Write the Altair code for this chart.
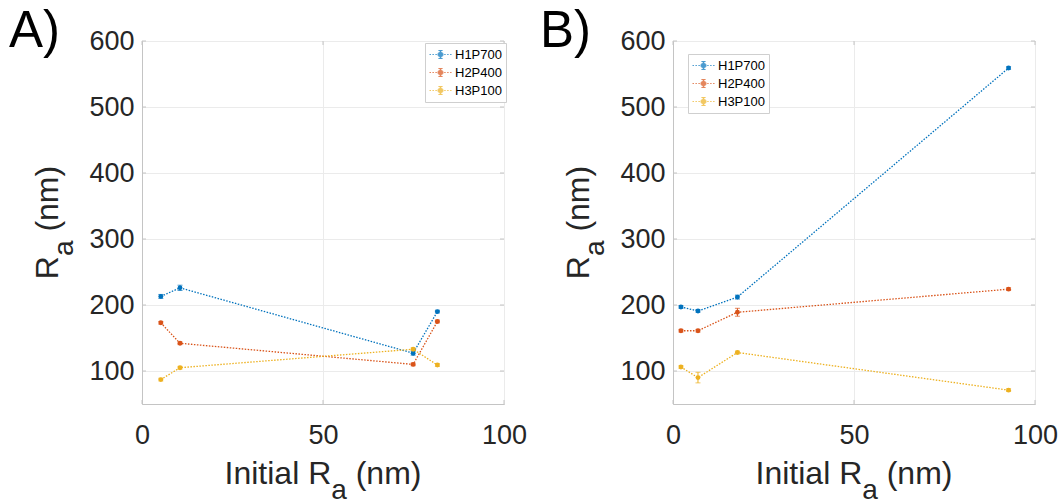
import altair as alt
import pandas as pd

FONT = "Liberation Sans"
GRAY = "#c4c4c4"
TXT = "#262626"

series = ["H1P700", "H2P400", "H3P100"]
colors = ["#0072BD", "#D95319", "#EDB120"]

# Panel A
a_x = [5.2, 10.5, 74.9, 81.6]
a_h1 = [213, 226, 127, 190]
a_h2 = [173, 142, 110, 175]
a_h3 = [87, 105, 133, 109]
a_h1_err = [3, 4, 3, 2]
a_h2_err = [2, 2, 2, 2]
a_h3_err = [2, 2, 2, 2]

# Panel B
b_x = [2.2, 6.9, 17.8, 92.7]
b_h1 = [197, 191, 212, 559]
b_h2 = [161, 161, 189, 224]
b_h3 = [106, 90, 128, 71]
b_h1_err = [2, 2, 3, 2]
b_h2_err = [2, 2, 6, 2]
b_h3_err = [2, 8, 2, 2]

x_ticks = [0, 50, 100]
y_ticks = [100, 200, 300, 400, 500, 600]

W, H = 362, 363
F_MAIN, F_SUB, SUB_DROP = 32, 28, 15

# approximate Arial advance widths (em)
ADV = {"I": .278, "n": .556, "i": .222, "t": .278, "a": .556, "l": .222,
       " ": .278, "R": .722, "(": .333, ")": .333, "m": .833}


def tw(s, f):
    return sum(ADV[c] for c in s) * f


def make_df(xs, ys_list, errs_list):
    rows = []
    for s, ys, es in zip(series, ys_list, errs_list):
        for i, (x, y, e) in enumerate(zip(xs, ys, es)):
            rows.append({"series": s, "order": i, "x": x, "y": y,
                         "lo": y - e, "hi": y + e})
    return pd.DataFrame(rows)


df_a = make_df(a_x, [a_h1, a_h2, a_h3], [a_h1_err, a_h2_err, a_h3_err])
df_b = make_df(b_x, [b_h1, b_h2, b_h3], [b_h1_err, b_h2_err, b_h3_err])

x_axis = alt.Axis(values=x_ticks, title=None, labelPadding=18,
                  grid=True, ticks=False, labelFlush=False)
y_axis = alt.Axis(values=y_ticks, title=None, labelPadding=8,
                  grid=True, ticks=False, labelOverlap=False)
x_scale = alt.Scale(domain=[0, 100], nice=False, zero=False)
y_scale = alt.Scale(domain=[50, 600], nice=False, zero=False)

# legend glyph: dotted line + error bar + dot (unit = 7 px)
dots = "".join("M%.2f,0h0.21" % (-1.57 + k * 0.42) for k in range(8))
LEG_PATH = (dots + "M0,-0.57V0.57M-0.3,-0.57H0.3M-0.3,0.57H0.3"
            "M0.36,0A0.36,0.36 0 1 1 -0.36,0A0.36,0.36 0 1 1 0.36,0"
            "M0.18,0A0.18,0.18 0 1 1 -0.18,0A0.18,0.18 0 1 1 0.18,0")


def txt(s, x, y, size, angle=0, color=TXT):
    return alt.Chart(pd.DataFrame({"t": [s]})).mark_text(
        font=FONT, fontSize=size, align="left", baseline="alphabetic",
        angle=angle, color=color
    ).encode(text="t:N", x=alt.value(x), y=alt.value(y))


def axis_titles():
    sp = tw(" ", F_MAIN)
    # x title: "Initial R" + sub "a" + " (nm)"
    w1 = tw("Initial R", F_MAIN)
    w2 = tw("a", F_SUB)
    w3 = tw("(nm)", F_MAIN)
    x0 = W / 2 - (w1 + w2 + sp + w3) / 2
    base_y = 442.5
    xt = [txt("Initial R", x0, base_y, F_MAIN),
          txt("a", x0 + w1, base_y + SUB_DROP, F_SUB),
          txt("(nm)", x0 + w1 + w2 + sp, base_y, F_MAIN)]
    # y title (rotated): "R" + sub "a" + " (nm)"
    v1 = tw("R", F_MAIN)
    v2 = tw("a", F_SUB)
    v3 = tw("(nm)", F_MAIN)
    y0 = H / 2 + (v1 + v2 + sp + v3) / 2
    base_x = -84
    yt = [txt("R", base_x, y0, F_MAIN, 270),
          txt("a", base_x + SUB_DROP, y0 - v1, F_SUB, 270),
          txt("(nm)", base_x, y0 - v1 - v2 - sp, F_MAIN, 270)]
    return xt + yt


def panel(df, label, lx, ly):
    leg = alt.Legend(title=None, orient="none", legendX=lx, legendY=ly,
                     fillColor="white", strokeColor="#cfcfcf", padding=4,
                     labelFont=FONT, labelFontSize=13, labelColor="black",
                     symbolType=LEG_PATH, symbolSize=196, symbolStrokeWidth=1,
                     symbolOffset=4, rowPadding=3, labelOffset=7)
    color = alt.Color("series:N", scale=alt.Scale(domain=series, range=colors), legend=leg)
    X = alt.X("x:Q", scale=x_scale, axis=x_axis)
    Y = alt.Y("y:Q", scale=y_scale, axis=y_axis)
    base = alt.Chart(df)
    line = base.mark_line(strokeDash=[1.5, 1.5], strokeWidth=1.3).encode(
        x=X, y=Y, color=color, order="order:Q")
    err = base.mark_rule(strokeWidth=1).encode(
        x=X, y=alt.Y("lo:Q", scale=y_scale, axis=y_axis), y2="hi:Q", color=color)
    cap_lo = base.mark_tick(orient="horizontal", size=5, thickness=1).encode(
        x=X, y=alt.Y("lo:Q", scale=y_scale, axis=y_axis), color=color)
    cap_hi = base.mark_tick(orient="horizontal", size=5, thickness=1).encode(
        x=X, y=alt.Y("hi:Q", scale=y_scale, axis=y_axis), color=color)
    pts = base.mark_circle(size=24, opacity=1).encode(x=X, y=Y, color=color)

    yt = pd.DataFrame({"y": y_ticks})
    xt = pd.DataFrame({"x": x_ticks})
    yt_left = alt.Chart(yt).mark_rule(color=GRAY).encode(
        y=Y, x=alt.value(0), x2=alt.value(4))
    yt_right = alt.Chart(yt).mark_rule(color=GRAY).encode(
        y=Y, x=alt.value(W - 4), x2=alt.value(W))
    xt_bot = alt.Chart(xt).mark_rule(color=GRAY).encode(
        x=X, y=alt.value(H), y2=alt.value(H - 4))
    xt_top = alt.Chart(xt).mark_rule(color=GRAY).encode(
        x=X, y=alt.value(0), y2=alt.value(4))

    lab = txt(label, -133, 6, 51, color="black")

    return alt.layer(yt_left, yt_right, xt_bot, xt_top, line, err, cap_lo, cap_hi,
                     pts, lab, *axis_titles()).properties(width=W, height=H)


chart = alt.hconcat(
    panel(df_a, "A)", 283, 2),
    panel(df_b, "B)", 15, 13),
    spacing=11,
).resolve_legend(color="independent").properties(
    padding={"left": 8, "top": 5, "right": 0, "bottom": 0}
).configure_axis(
    labelFont=FONT, titleFont=FONT, labelFontSize=27,
    labelColor=TXT, domainColor=GRAY, gridColor="#ebebeb", gridWidth=1,
).configure_view(stroke=GRAY)

chart.save("out.html", embed_options={"renderer": "svg", "actions": False})
